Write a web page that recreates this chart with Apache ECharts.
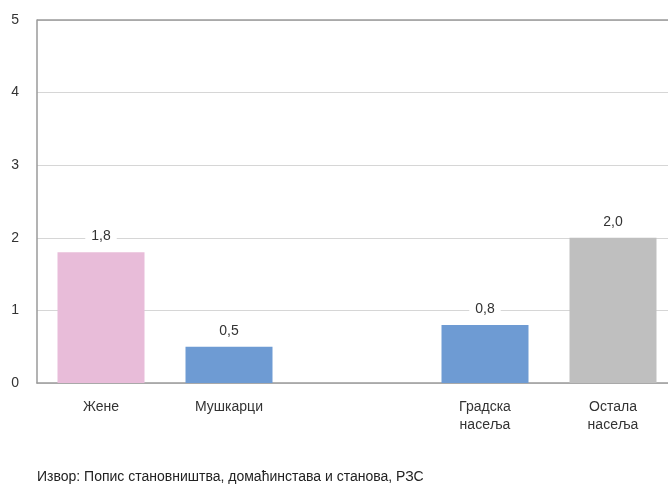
<!DOCTYPE html>
<html><head><meta charset="utf-8">
<script src="https://cdn.jsdelivr.net/npm/echarts@6/dist/echarts.min.js"></script>
<style>html,body{margin:0;padding:0;background:#fff;overflow:hidden;width:668px;height:485px}#c{width:680px;height:485px}</style>
</head><body><div id="c"></div>
<script>
var categories = ['Жене', 'Мушкарци', '', 'Градска\nнасеља', 'Остала\nнасеља'];
var values = [1.8, 0.5, null, 0.8, 2.0];
var colors = ['#e8bcd9', '#6e9bd3', '#ffffff', '#6e9bd3', '#bfbfbf'];
var yTicks = [0, 1, 2, 3, 4, 5];
var source = 'Извор: Попис становништва, домаћинстава и станова, РЗС';

var chart = echarts.init(document.getElementById('c'), null, {renderer: 'canvas'});
chart.setOption({
  animation: false,
  textStyle: {fontFamily: 'Liberation Sans, Arial, sans-serif'},
  grid: {left: 37, right: 3, top: 20, bottom: 102, containLabel: false},
  xAxis: {
    type: 'category', data: categories,
    axisLine: {lineStyle: {color: '#9a9a9a', width: 1.5}},
    axisTick: {show: false},
    axisLabel: {color: '#333', fontSize: 14, lineHeight: 18, margin: 15}
  },
  yAxis: {
    type: 'value', min: yTicks[0], max: yTicks[yTicks.length - 1], interval: 1,
    axisLine: {show: true, lineStyle: {color: '#9a9a9a', width: 1.5}},
    axisTick: {show: false},
    axisLabel: {color: '#333', fontSize: 14, margin: 18},
    splitLine: {lineStyle: {color: '#d6d6d6', width: 1}}
  },
  series: [{
    type: 'bar',
    barWidth: 87,
    data: values.map(function (v, i) { return {value: v, itemStyle: {color: colors[i]}}; }),
    label: {
      show: true, position: 'top', distance: 8,
      color: '#333', fontSize: 14,
      backgroundColor: '#fff', padding: [1, 6],
      formatter: function (p) { return p.value == null ? '' : p.value.toFixed(1).replace('.', ','); }
    }
  }],
  graphic: [
    {type: 'line', shape: {x1: 37, y1: 20, x2: 680, y2: 20}, style: {stroke: '#9a9a9a', lineWidth: 1.5}, z: 10},
    {type: 'text', left: 37, top: 470, style: {text: source, fill: '#222', fontSize: 14, fontFamily: 'Liberation Sans, Arial, sans-serif'}}
  ]
});
</script></body></html>
